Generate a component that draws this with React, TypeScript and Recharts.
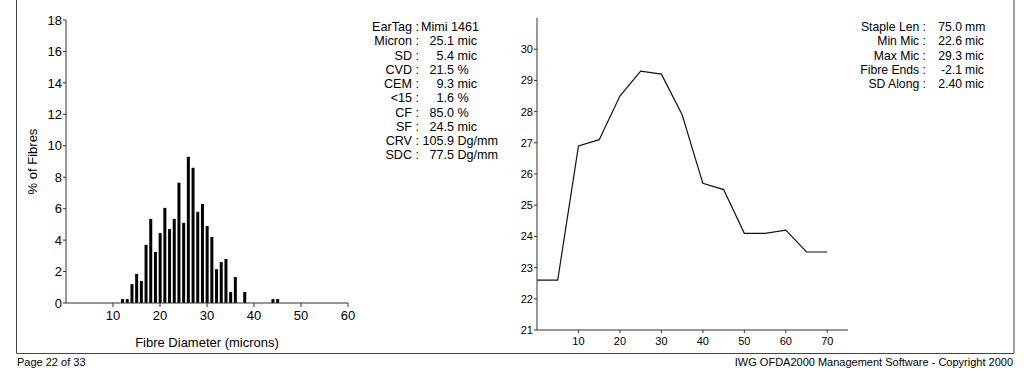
import { Bar, BarChart, Label, Line, LineChart, XAxis, YAxis } from "recharts"

const FONT = "'Liberation Sans', Arial, sans-serif"

// fibre diameter histogram (micron class -> % of fibres)
const microns = [12, 13, 14, 15, 16, 17, 18, 19, 20, 21, 22, 23, 24, 25, 26, 27, 28, 29, 30, 31, 32, 33, 34, 35, 36, 37, 38, 39, 40, 41, 42, 43, 44, 45]
const fibrePercent = [0.25, 0.25, 1.2, 1.85, 1.4, 3.7, 5.35, 3.25, 4.45, 6.05, 4.7, 5.35, 7.65, 5.1, 9.3, 8.6, 5.8, 6.3, 4.9, 4.2, 2.15, 2.6, 2.8, 0.7, 1.65, 0, 0.7, 0, 0, 0, 0, 0, 0.25, 0.25]
const histXTicks = [10, 20, 30, 40, 50, 60]
const histYTicks = [0, 2, 4, 6, 8, 10, 12, 14, 16, 18]

// micron profile along the staple (mm -> mic)
const staplePos = [0, 5, 10, 15, 20, 25, 30, 35, 40, 45, 50, 55, 60, 65, 70]
const micronAlong = [22.6, 22.6, 26.9, 27.1, 28.5, 29.3, 29.2, 27.9, 25.7, 25.5, 24.1, 24.1, 24.2, 23.5, 23.5]
const profXTicks = [10, 20, 30, 40, 50, 60, 70]
const profYTicks = [21, 22, 23, 24, 25, 26, 27, 28, 29, 30]

// summary stats
const statLabels = ["EarTag", "Micron", "SD", "CVD", "CEM", "<15", "CF", "SF", "CRV", "SDC"]
const statValues = ["", "25.1", "5.4", "21.5", "9.3", "1.6", "85.0", "24.5", "105.9", "77.5"]
const statUnits = ["Mimi 1461", "mic", "mic", "%", "mic", "%", "%", "mic", "Dg/mm", "Dg/mm"]

const profLabels = ["Staple Len", "Min Mic", "Max Mic", "Fibre Ends", "SD Along"]
const profValues = ["75.0", "22.6", "29.3", "-2.1", "2.40"]
const profUnits = ["mm", "mic", "mic", "mic", "mic"]

const histData = microns.map((m, i) => ({ micron: m, pct: fibrePercent[i] }))
const profData = staplePos.map((p, i) => ({ pos: p, mic: micronAlong[i] }))

const axisLine = { stroke: "#333" }
const tickStyle13 = { fill: "#000", fontSize: 13, fontFamily: FONT }
const tickStyle11 = { fill: "#000", fontSize: 11, fontFamily: FONT }

const LINE_H = 14.26

export default function App() {
  return (
    <div style={{ position: "absolute", left: 0, top: 0, width: 1024, height: 372, background: "#fff", fontFamily: FONT }}>
      <div style={{ position: "absolute", left: 0, top: 0 }}>
        <BarChart width={360} height={355} data={histData} margin={{ top: 20, right: 12, bottom: 4, left: 6 }}>
          <XAxis
            dataKey="micron"
            type="number"
            domain={[0, 60]}
            ticks={histXTicks}
            tick={tickStyle13}
            axisLine={axisLine}
            tickLine={axisLine}
            tickSize={4}
            tickMargin={4}
            height={48}
          >
            <Label value="Fibre Diameter (microns)" position="insideBottom" offset={4} style={{ fill: "#000", fontSize: 13, fontFamily: FONT }} />
          </XAxis>
          <YAxis
            type="number"
            domain={[0, 18]}
            ticks={histYTicks}
            tick={tickStyle13}
            axisLine={axisLine}
            tickLine={axisLine}
            tickSize={3}
            tickMargin={1}
            width={60}
          >
            <Label value="% of Fibres" angle={-90} position="center" dx={-4} style={{ fill: "#000", fontSize: 13, fontFamily: FONT }} />
          </YAxis>
          <Bar dataKey="pct" fill="#000" barSize={3} isAnimationActive={false} />
        </BarChart>
      </div>

      <div style={{ position: "absolute", left: 490, top: 0 }}>
        <LineChart width={380} height={355} data={profData} margin={{ top: 18, right: 22, bottom: 0, left: 7 }}>
          <XAxis
            dataKey="pos"
            type="number"
            domain={[0, 75]}
            ticks={profXTicks}
            tick={tickStyle11}
            axisLine={axisLine}
            tickLine={axisLine}
            tickSize={3}
            tickMargin={4}
            height={25}
          />
          <YAxis
            type="number"
            domain={[21, 31]}
            ticks={profYTicks}
            tick={tickStyle11}
            axisLine={axisLine}
            tickLine={axisLine}
            tickSize={3}
            tickMargin={1}
            width={40}
          />
          <Line dataKey="mic" stroke="#111" strokeWidth={1.2} dot={false} isAnimationActive={false} type="linear" />
        </LineChart>
      </div>

      <svg width={1024} height={372} style={{ position: "absolute", left: 0, top: 0, pointerEvents: "none" }}>
        <g fontFamily={FONT} fontSize={12.6} fill="#000">
          {statLabels.map((l, i) => (
            <g key={l}>
              <text x={419} y={31 + i * LINE_H} textAnchor="end">{l} :</text>
              {statValues[i] ? <text x={454} y={31 + i * LINE_H} textAnchor="end">{statValues[i]}</text> : null}
              <text x={statValues[i] ? 457.5 : 421} y={31 + i * LINE_H}>{statUnits[i]}</text>
            </g>
          ))}
        </g>
        <g fontFamily={FONT} fontSize={12.2} fill="#000">
          {profLabels.map((l, i) => (
            <g key={l}>
              <text x={926} y={31 + i * LINE_H} textAnchor="end">{l} :</text>
              <text x={962} y={31 + i * LINE_H} textAnchor="end">{profValues[i]}</text>
              <text x={965} y={31 + i * LINE_H}>{profUnits[i]}</text>
            </g>
          ))}
        </g>
        <polyline points="16.5,0 16.5,353.5 1014,353.5 1014,0" fill="none" stroke="#444" strokeWidth={1} />
        <g fontFamily={FONT} fontSize={11} fill="#000">
          <text x={17} y={365.5}>Page 22 of 33</text>
          <text x={1013} y={365.5} textAnchor="end">IWG OFDA2000 Management Software - Copyright 2000</text>
        </g>
      </svg>
    </div>
  )
}
